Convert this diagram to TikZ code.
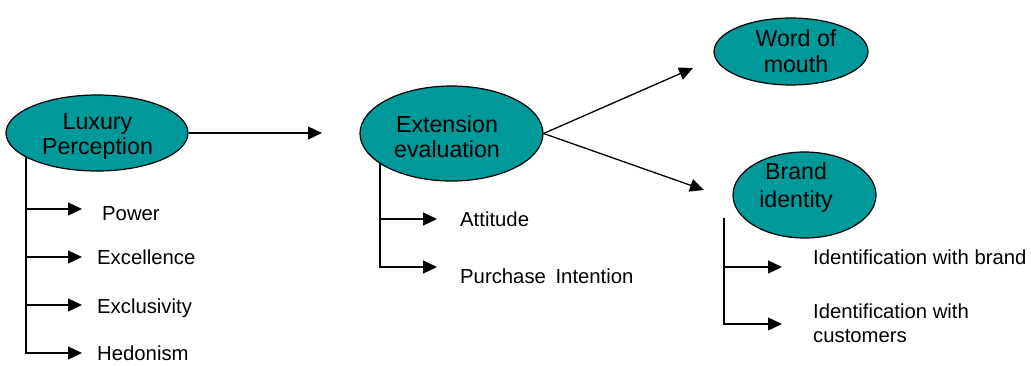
\documentclass[tikz,border=0pt]{standalone}
\usepackage{fontspec}
\setmainfont{Liberation Sans}
\usetikzlibrary{shapes.geometric,arrows.meta}
\definecolor{ovalfill}{RGB}{0,153,153}
\begin{document}
\begin{tikzpicture}[x=1pt,y=-1pt,
  oval/.style={ellipse, draw=black, fill=ovalfill, line width=1.2pt, inner sep=0},
  ovtext/.style={anchor=base, font=\fontsize{23.2}{26}\selectfont, inner sep=0},
  item/.style={anchor=base west, font=\fontsize{20.3}{24}\selectfont, inner sep=0},
  conn/.style={line width=1.3pt, -{Triangle[length=14pt,width=13pt]}},
  ]
\useasboundingbox (0,0) rectangle (1031,365);

% ovals
\node[oval, minimum width=182pt, minimum height=76pt] (lux) at (97,133) {};
\node[ovtext] (lux1) at (97.5,129) {Luxury};
\node[ovtext] (lux2) at (97.5,154) {Perception};

\node[oval, minimum width=183pt, minimum height=95pt] (ext) at (451.5,133.5) {};
\node[ovtext] (ext1) at (447,132) {Extension};
\node[ovtext] (ext2) at (447,157) {evaluation};

\node[oval, minimum width=154pt, minimum height=67pt] (wom) at (791,51.5) {};
\node[ovtext] (wom1) at (796,46) {Word of};
\node[ovtext] (wom2) at (796,72) {mouth};

\node[oval, minimum width=143pt, minimum height=86pt] (bid) at (804.5,195) {};
\node[ovtext] (bid1) at (796,179) {Brand};
\node[ovtext] (bid2) at (796,207) {identity};

% main arrows
\coordinate (luxend) at (322,133);
\coordinate (womend) at (693,68);
\coordinate (bidend) at (704,190);
\draw[conn] (lux.east) -- (luxend);
\draw[conn] (ext.east) -- (womend);
\draw[conn] (ext.east) -- (bidend);

% Luxury branches
\coordinate (luxtop) at (26,157);
\coordinate (lb1) at (82,209);
\coordinate (lb2) at (82,257);
\coordinate (lb3) at (82,305);
\coordinate (lb4) at (82,353);
\draw[conn] (luxtop) |- (lb4);
\foreach \i in {1,2,3} \draw[conn] (luxtop |- lb\i) -- (lb\i);
\node[item] (pow) at (102,220) {Power};
\node[item] (exc) at (97,264.5) {Excellence};
\node[item] (exl) at (97,313) {Exclusivity};
\node[item] (hed) at (97,360.5) {Hedonism};

% Extension branches
\coordinate (exttop) at (380,163);
\coordinate (eb1) at (437,219);
\coordinate (eb2) at (437,267);
\draw[conn] (exttop) |- (eb2);
\draw[conn] (exttop |- eb1) -- (eb1);
\node[item] (att) at (460,226) {Attitude};
\node[item] (pur) at (460,283) {Purchase\hspace{4pt} Intention};

% Brand identity branches
\coordinate (bidtop) at (724,218);
\coordinate (bb1) at (782,267);
\coordinate (bb2) at (782,324);
\draw[conn] (bidtop) |- (bb2);
\draw[conn] (bidtop |- bb1) -- (bb1);
\node[item] (idb) at (813,264) {Identification with brand};
\node[item] (idc1) at (813,318) {Identification with};
\node[item] (idc2) at (813,342) {customers};
\end{tikzpicture}
\end{document}
